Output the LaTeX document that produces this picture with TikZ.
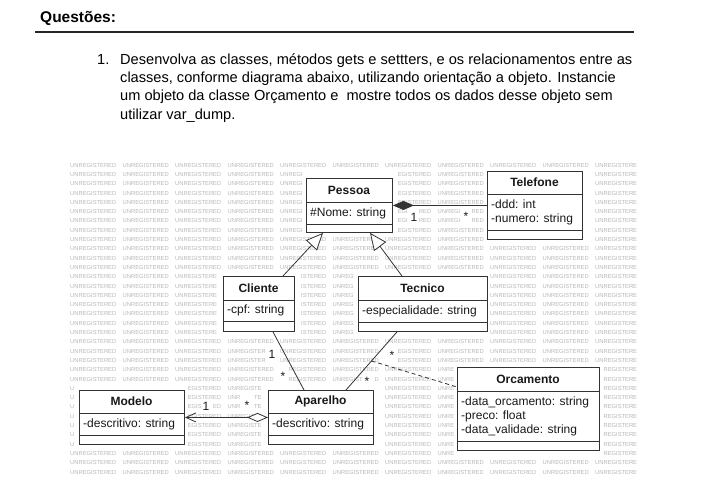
\documentclass[tikz,border=0pt]{standalone}
\usepackage{fontspec}
\setmainfont{Liberation Sans}
\usetikzlibrary{arrows.meta,calc}
\tikzset{
 umlbox/.style={draw=black!80, line width=0.9pt, fill=white, rectangle, inner sep=0pt},
 umlsep/.style={draw=black!80, line width=0.9pt},
 umltitle/.style={font=\fontsize{12}{14}\selectfont\bfseries, inner sep=0pt, text=black!90},
 umlattr/.style={font=\fontsize{12}{14}\selectfont, inner sep=0pt, align=left, anchor=west, text=black!90},
 wm/.style={font=\fontsize{5.8}{6}\selectfont, text=black!28, inner sep=0pt, anchor=base west},
 conn/.style={draw=black!80, line width=0.8pt},
 mult/.style={font=\fontsize{12}{14}\selectfont, inner sep=0pt, text=black!90},
 qtext/.style={font=\fontsize{14.6}{18}\selectfont, inner sep=0pt, anchor=base west},
}
% #1 name, #2 x1, #3 y1, #4 x2, #5 y2, #6 sep1, #7 sep2, #8 title, #9 attributes
\newcommand\umlclass[9]{%
  \fill[white] (#2-3,#3-3) rectangle (#4+3,#5+3);
  \node[umlbox, minimum width={(#4-#2)*1pt}, minimum height={(#5-#3)*1pt}, anchor=north west] (#1) at (#2,#3) {};
  \draw[umlsep] (#2,#6) -- (#4,#6);
  \draw[umlsep] (#2,#7) -- (#4,#7);
  \node[umltitle] (#1-t) at ({(#2+#4)/2},{(#3+#6)/2}) {#8};
  \node[umlattr] (#1-a) at (#2+4,{(#6+#7)/2}) {#9};
}
% watermark hit test: is the rectangle x1..x2, y1..y2 covered by a class box, a label, or beyond the right edge?
\newcommand\wmtest[4]{%
  \gdef\wmres{0}%
  \foreach \wba/\wbb/\wbc/\wbd in {303/395/175/235, 484/585/168/242, 220/297/273/334, 355/490/273/334, 76/187/387/447, 265/376/387/447, 454/602/364/453, 637/900/0/600,
      410/418/211/223, 462/470/209/223, 202/210/400/412, 243/251/398/411, 268/276/348/360, 279/287/369/382, 388/396/348/362, 363/371/374/387} {%
    \pgfmathparse{((#1)<\wbb)&&((#2)>\wba)&&((#3)<\wbd)&&((#4)>\wbc)}%
    \ifdim\pgfmathresult pt>0.5pt \gdef\wmres{1}\fi
  }%
}
\begin{document}
\begin{tikzpicture}[x=1pt,y=-1pt]
\useasboundingbox[fill=white] (0,0) rectangle (703,492);

% heading
\node[font=\fontsize{15.5}{18}\selectfont\bfseries, inner sep=0pt, anchor=west] (quest) at (40,18) {Questões:};
\coordinate (r1) at (35,32);
\coordinate (r2) at (634,32);
\draw[line width=1.5pt, black!85] (r1) -- (r2);

\node[qtext] (q1) at (97,65) {1.};
\node[qtext] (l1) at (120,65) {Desenvolva as classes, métodos gets e settters, e os relacionamentos entre as};
\node[qtext] (l2) at (120,83) {classes, conforme diagrama abaixo, utilizando orientação a objeto. Instancie};
\node[qtext] (l3) at (120,101) {um objeto da classe Orçamento e~ mostre todos os dados desse objeto sem};
\node[qtext] (l4) at (120,119) {utilizar var\_dump.};

% watermark
\foreach \i in {0,...,33} {
  \foreach \j in {0,...,10} {
    \pgfmathsetmacro\wx{70+52.5*\j}
    \pgfmathsetmacro\wy{165+9.3*\i}
    \wmtest{\wx}{\wx+46.1}{\wy-2.3}{\wy+2.3}
    \ifnum\wmres=0\relax
      \node[wm] (wm-\i-\j) at (\wx,\wy+2.1) {UNREGISTERED};
    \else
      \foreach \wk/\wch/\wls/\wle in {1/U/0/4.19, 2/N/4.19/8.38, 3/R/8.38/12.56, 4/E/12.56/16.43, 5/G/16.43/20.94, 6/I/20.94/22.56, 7/S/22.56/26.42, 8/T/26.42/29.97, 9/E/29.97/33.84, 10/R/33.84/38.02, 11/E/38.02/41.89, 12/D/41.89/46.08} {
        \wmtest{\wx+\wls}{\wx+\wle}{\wy-2.3}{\wy+2.3}
        \ifnum\wmres=0\relax
          \node[wm] (wm-\i-\j-\wk) at (\wx+\wls,\wy+2.1) {\wch};
        \fi
      }
    \fi
  }
}

% classes
\umlclass{pessoa}{306}{178}{392}{232}{202}{224}{Pessoa}{\#Nome: string}
\umlclass{telefone}{487}{171}{582}{239}{194}{230}{Telefone}{-ddd: int\\-numero: string}
\umlclass{cliente}{223}{276}{294}{331}{300}{321}{Cliente}{-cpf: string}
\umlclass{tecnico}{358}{276}{487}{331}{300}{322}{Tecnico}{-especialidade: string}
\umlclass{modelo}{79}{390}{184}{444}{413}{435}{Modelo}{-descritivo: string}
\umlclass{aparelho}{268}{390}{373}{444}{413}{435}{Aparelho}{-descritivo: string}
\umlclass{orcamento}{457}{367}{599}{450}{391}{441}{Orcamento}{-data\_orcamento: string\\-preco: float\\-data\_validade: string}

% connectors
\draw[conn, -{Diamond[length=21pt,width=9pt]}] (telefone.west) -- (pessoa.east);
\draw[conn, -{Triangle[length=17pt,width=15pt,fill=white]}] ([xshift=60pt]cliente.north west) -- ([xshift=17pt]pessoa.south west);
\draw[conn, -{Triangle[length=17pt,width=15pt,fill=white]}] ([xshift=44pt]tecnico.north west) -- ([xshift=64pt]pessoa.south west);
\draw[conn, {Diamond[length=21pt,width=9pt,fill=white]}-{Straight Barb[length=10pt,width=9pt]}] (aparelho.west) -- (modelo.east);
\draw[conn] ([xshift=50pt]cliente.south west) -- ([xshift=36pt]aparelho.north west);
\draw[conn] ([xshift=39pt]tecnico.south west) coordinate (ta) -- ([xshift=78pt]aparelho.north west) coordinate (ab);
\coordinate (mid) at ($(ta)!0.5!(ab)$);
\draw[conn, dash pattern=on 4pt off 3pt] (mid) -- ([yshift=-20pt]orcamento.north west);

% multiplicities
\node[mult] (m1) at (414,217) {1};
\node[mult] (m2) at (466,216) {*};
\node[mult] (m3) at (206,406) {1};
\node[mult] (m4) at (247,405) {*};
\node[mult] (m5) at (272,354) {1};
\node[mult] (m6) at (283,376) {*};
\node[mult] (m7) at (392,355) {*};
\node[mult] (m8) at (367,381) {*};
\end{tikzpicture}
\end{document}
